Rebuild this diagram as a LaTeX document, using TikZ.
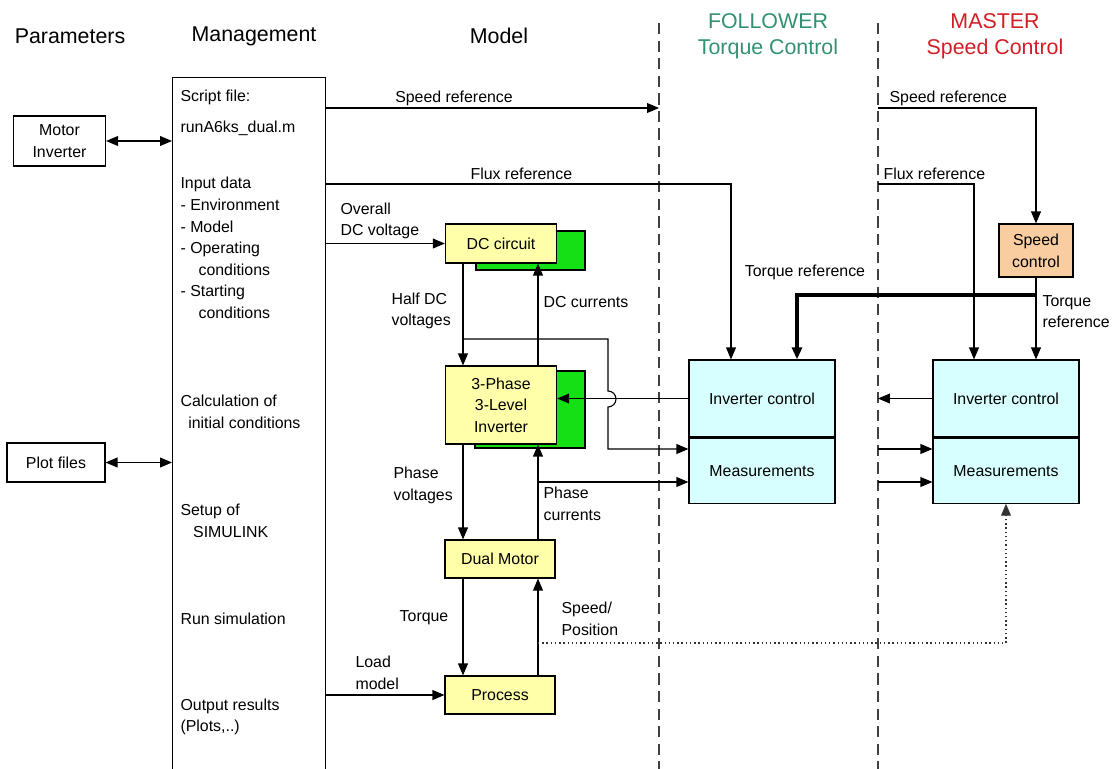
\documentclass[tikz,border=0pt]{standalone}
\usepackage{fontspec}
\setmainfont{Liberation Sans}
\usetikzlibrary{arrows.meta}

\definecolor{boxyellow}{RGB}{255,255,170}
\definecolor{shadowgreen}{RGB}{20,225,20}
\definecolor{ctrlcyan}{RGB}{215,255,255}
\definecolor{spdorange}{RGB}{250,205,160}
\definecolor{followercol}{RGB}{50,145,115}
\definecolor{mastercol}{RGB}{210,30,35}

\begin{document}
\begin{tikzpicture}[x=0.025cm, y=-0.025cm, line width=0.8pt,
    >={Triangle[length=8.5pt,width=7pt]},
    txt/.style={inner sep=0pt, align=left, font=\fontsize{11.3}{15.4}\selectfont},
    headtxt/.style={inner sep=0pt, align=center, font=\fontsize{15.2}{18.5}\selectfont},
    blockbox/.style={draw, inner sep=0pt, align=center, font=\fontsize{11.3}{15.4}\selectfont},
    modelbox/.style={blockbox, fill=boxyellow},
    greenbox/.style={draw, fill=shadowgreen, inner sep=0pt},
    ctrlbox/.style={blockbox, fill=ctrlcyan, minimum width=3.65cm},
    zonesep/.style={black!75, dash pattern=on 8pt off 4.5pt},
    fbline/.style={black!80, dash pattern=on 1pt off 2pt},
    tqline/.style={line width=2.6pt}]
    \useasboundingbox (0,0) rectangle (1120,769);

    % Column headings
    \node[headtxt] (hpar) at (70,36) {Parameters};
    \node[headtxt] (hman) at (254,36) {Management};
    \node[headtxt] (hmod) at (499,36) {Model};
    \node[headtxt, text=followercol] (hfol) at (768,36) {FOLLOWER\\Torque Control};
    \node[headtxt, text=mastercol] (hmas) at (995,36) {MASTER\\Speed Control};

    % Zone borders
    \coordinate (fTop) at (659,23); \coordinate (fBot) at (659,769);
    \coordinate (mTop) at (878,23); \coordinate (mBot) at (878,769);
    \draw[zonesep] (fTop) -- (fBot);
    \draw[zonesep] (mTop) -- (mBot);

    % Parameters
    \node[blockbox, minimum width=2.3cm, minimum height=1.25cm] (motinv) at (59.5,141) {Motor\\Inverter};
    \node[blockbox, minimum width=2.45cm, minimum height=0.975cm] (plotf) at (56,462.5) {Plot files};

    % Management
    \node[draw, anchor=north west, minimum width=3.825cm, minimum height=18cm, inner sep=0pt] (mgmt) at (172,77) {};
    \node[txt, anchor=west] (mscr) at (180,97) {Script file:};
    \node[txt, anchor=west] (mrun) at (180,128) {runA6ks\_dual.m};
    \node[txt, anchor=west] (minp) at (180,248) {Input data\\- Environment\\- Model\\- Operating\\\hspace*{12.8pt}conditions\\- Starting\\\hspace*{12.8pt}conditions};
    \node[txt, anchor=west] (mcalc) at (180,412) {Calculation of\\\hspace*{5.5pt}initial conditions};
    \node[txt, anchor=west] (mset) at (180,520.5) {Setup of\\\hspace*{9pt}SIMULINK};
    \node[txt, anchor=west] (msim) at (180,619) {Run simulation};
    \node[txt, anchor=west] (mout) at (180,717) {Output results\\(Plots,..)};

    \draw[<->] (motinv.east) -- (motinv.east -| mgmt.west);
    \draw[<->] (plotf.east) -- (plotf.east -| mgmt.west);

    % Model blocks
    \node[greenbox, minimum width=2.725cm, minimum height=0.975cm] (dcsh) at (530.5,250.5) {};
    \node[modelbox, minimum width=2.78cm, minimum height=0.975cm] (dc) at (501,243.5) {DC circuit};
    \node[greenbox, minimum width=2.75cm, minimum height=1.925cm] (invsh) at (530,409.5) {};
    \node[modelbox, minimum width=2.78cm, minimum height=1.95cm] (inv) at (501,405) {3-Phase\\3-Level\\Inverter};
    \node[modelbox, minimum width=2.75cm, minimum height=0.95cm] (dmot) at (500,559) {Dual Motor};
    \node[modelbox, minimum width=2.75cm, minimum height=0.95cm] (proc) at (500,695) {Process};

    % Follower and master blocks
    \node[ctrlbox, minimum height=1.925cm] (fic) at (762,398.5) {Inverter control};
    \node[ctrlbox, minimum height=1.625cm, anchor=north] (fmeas) at (fic.south) {Measurements};
    \node[ctrlbox, minimum height=1.925cm] (mic) at (1006,398.5) {Inverter control};
    \node[ctrlbox, minimum height=1.625cm, anchor=north] (mmeas) at (mic.south) {Measurements};
    \node[blockbox, fill=spdorange, minimum width=1.85cm, minimum height=1.325cm] (spc) at (1036,250.5) {Speed\\control};

    % References to the follower
    \coordinate (spdF) at (659,108);
    \draw[->] (spdF -| mgmt.east) -- (spdF);
    \node[txt] (lspdF) at (454,98) {Speed reference};
    \coordinate (fluxF) at (731,184);
    \draw[->] (fluxF -| mgmt.east) -- (fluxF) -- (fluxF |- fic.north);
    \node[txt, anchor=west] (lfluxF) at (470,174) {Flux reference};

    % Inputs of the model
    \draw[->] (dc.west -| mgmt.east) -- (dc.west);
    \node[txt, anchor=west] (ldcv) at (340,221) {Overall\\DC voltage};
    \draw[->] (proc.west -| mgmt.east) -- (proc.west);
    \node[txt, anchor=west] (lload) at (355,672.5) {Load\\model};

    % Signals inside the model
    \coordinate (colL) at (463,0); \coordinate (colR) at (538,0);
    \draw[->] (colL |- dc.south) -- (colL |- inv.north);
    \node[txt, anchor=west] (lhdc) at (391,311) {Half DC\\voltages};
    \draw[->] (colR |- inv.north) -- (colR |- dc.south);
    \node[txt, anchor=west] (ldcc) at (543,302) {DC currents};
    \draw[->] (colL |- inv.south) -- (colL |- dmot.north);
    \node[txt, anchor=west] (lphv) at (393,485.5) {Phase\\voltages};
    \draw[->] (colR |- dmot.north) -- (colR |- inv.south);
    \node[txt, anchor=west] (lphc) at (543,504) {Phase\\currents};
    \draw[->] (colL |- dmot.south) -- (colL |- proc.north);
    \node[txt] (ltq) at (424,618) {Torque};
    \draw[->] (colR |- proc.north) -- (colR |- dmot.south);
    \node[txt, anchor=west] (lspos) at (561,618.5) {Speed/\\Position};

    % Measurements and control of the follower
    \coordinate (rowA) at (0,449); \coordinate (rowB) at (0,482);
    \coordinate (hdc) at (463,339); \coordinate (hop) at (608,399);
    \draw[->] (hdc) -| ([yshift=0.2cm]hop) arc[start angle=90, end angle=-90, radius=0.2cm] |- (fmeas.west |- rowA);
    \draw[->] (colR |- rowB) -- (fmeas.west |- rowB);
    \draw[->] (fic.west) -- (fic.west -| inv.east);

    % Master speed control
    \coordinate (spdM) at (878,108);
    \draw[->] (spdM) -| (spc.north);
    \node[txt, anchor=west] (lspdM) at (889,98) {Speed reference};
    \coordinate (fluxM) at (878,184); \coordinate (fluxMx) at (974,184);
    \draw[->] (fluxM) -- (fluxMx) -- (fluxMx |- mic.north);
    \node[txt, anchor=west] (lfluxM) at (883,174) {Flux reference};
    \draw[->] (spc.south) -- (spc.south |- mic.north);
    \node[txt, anchor=west] (ltqM) at (1042,311.5) {Torque\\reference};

    % Torque reference to the follower
    \coordinate (tqF) at (797,295);
    \draw[tqline, ->] (spc.south |- tqF) -- (tqF) -- (tqF |- fic.north);
    \node[txt] (ltqF) at (805,272) {Torque reference};

    \draw[->] (mic.west) -- (mic.west -| mTop);
    \draw[->] (mTop |- rowA) -- (mmeas.west |- rowA);
    \draw[->] (mTop |- rowB) -- (mmeas.west |- rowB);

    % Speed feedback
    \coordinate (spos) at (538,643);
    \draw[fbline, ->] (spos) -| (mmeas.south);
\end{tikzpicture}
\end{document}
